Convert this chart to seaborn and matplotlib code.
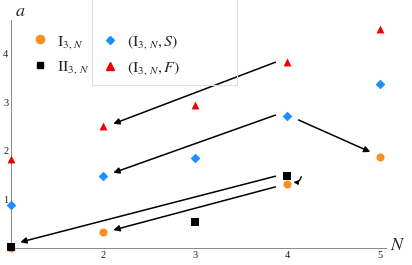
import matplotlib
matplotlib.use('Agg')
import matplotlib.pyplot as plt
import seaborn as sns
import pandas as pd
from matplotlib.lines import Line2D
from matplotlib.patches import Rectangle

sns.set_style("white")
plt.rcParams['font.family'] = ['Liberation Serif', 'DejaVu Serif']
plt.rcParams['mathtext.fontset'] = 'stix'

# data
n_orange = [1, 2, 4, 5]
a_orange = [0.0, 0.33, 1.32, 1.88]
n_black = [1, 3, 4]
a_black = [0.03, 0.54, 1.48]
n_blue = [1, 2, 3, 4, 5]
a_blue = [0.89, 1.48, 1.86, 2.72, 3.38]
n_red = [1, 2, 3, 4, 5]
a_red = [1.84, 2.52, 2.95, 3.83, 4.52]

# arrows: (tail N, tail a, head N, head a)
arrows = [
    (3.87, 3.83, 2.11, 2.56),
    (3.87, 2.74, 2.11, 1.55),
    (4.12, 2.64, 4.90, 1.98),
    (3.87, 1.48, 1.10, 0.12),
    (3.87, 1.26, 2.11, 0.37),
]

orange = '#F7901E'
blue = '#1E8FFF'
red = '#F00000'

fig = plt.figure(figsize=(4.12, 2.65), dpi=100)
ax = fig.add_axes([11 / 412, 17 / 265, 375 / 412, 228 / 265])

series = [
    (n_orange, a_orange, orange, 'o', 34),
    (n_black, a_black, 'black', 's', 28),
    (n_blue, a_blue, blue, 'D', 24),
    (n_red, a_red, red, '^', 32),
]
for xs, ys, c, m, s in series:
    df = pd.DataFrame({'N': xs, 'a': ys})
    sns.scatterplot(data=df, x='N', y='a', color=c, marker=m, s=s,
                    linewidth=0, ax=ax, legend=False, clip_on=False, zorder=3)

for x0, y0, x1, y1 in arrows:
    ax.annotate('', xy=(x1, y1), xytext=(x0, y0),
                arrowprops=dict(arrowstyle='-|>', color='black', lw=1.1,
                                mutation_scale=9, shrinkA=0, shrinkB=0))
# tiny arrow between the two N=4 points
ax.annotate('', xy=(4.065, 1.355), xytext=(4.15, 1.47), zorder=5,
            arrowprops=dict(arrowstyle='-|>', color='black', lw=1.0,
                            mutation_scale=6, shrinkA=0, shrinkB=0,
                            connectionstyle='arc3,rad=-0.4'))

ax.set_xlim(1, 5.07)
ax.set_ylim(0, 4.7)
ax.set_xticks([2, 3, 4, 5])
ax.set_yticks([1, 2, 3, 4])
ax.set_xticks([1 + 0.2 * i for i in range(21)], minor=True)
ax.set_yticks([0.2 * i for i in range(24)], minor=True)
ax.tick_params(which='both', direction='in', color='#888888', labelsize=7.5,
               labelcolor='#222222', pad=2)
ax.tick_params(which='major', length=4, width=0.6)
ax.tick_params(which='minor', length=2, width=0.5)
ax.set_xlabel('')
ax.set_ylabel('')
for sp in ['top', 'right']:
    ax.spines[sp].set_visible(False)
for sp in ['left', 'bottom']:
    ax.spines[sp].set_color('#888888')
    ax.spines[sp].set_linewidth(0.7)

fig.text(20 / 412, 1 - 12 / 265, '$a$', fontsize=13, ha='center', va='center')
fig.text(398 / 412, 1 - 246 / 265, '$N$', fontsize=13, ha='center', va='center')

# legend: first column unframed, second column inside a light box
fig.patches.append(Rectangle((92 / 412, 1 - 85 / 265), 145 / 412, 0.5,
                             transform=fig.transFigure, fill=False,
                             edgecolor='#dddddd', linewidth=0.8))
h1 = [Line2D([], [], marker='o', color=orange, ls='none', markersize=6),
      Line2D([], [], marker='s', color='black', ls='none', markersize=5)]
l1 = [r'$\mathrm{I}_{3,\,N}$', r'$\mathrm{II}_{3,\,N}$']
h2 = [Line2D([], [], marker='D', color=blue, ls='none', markersize=4.5),
      Line2D([], [], marker='^', color=red, ls='none', markersize=5.5)]
l2 = [r'$(\mathrm{I}_{3,\,N},S)$', r'$(\mathrm{I}_{3,\,N},F)$']
leg1 = fig.legend(h1, l1, loc='upper left', bbox_to_anchor=(30 / 412, 1 - 33 / 265),
                  frameon=False, fontsize=11.5, handlelength=1.2, handletextpad=0.5,
                  labelspacing=0.5, borderpad=0, borderaxespad=0)
leg2 = fig.legend(h2, l2, loc='upper left', bbox_to_anchor=(100 / 412, 1 - 33 / 265),
                  frameon=False, fontsize=11.5, handlelength=1.2, handletextpad=0.5,
                  labelspacing=0.5, borderpad=0, borderaxespad=0)

fig.savefig('out.png', dpi=100)
